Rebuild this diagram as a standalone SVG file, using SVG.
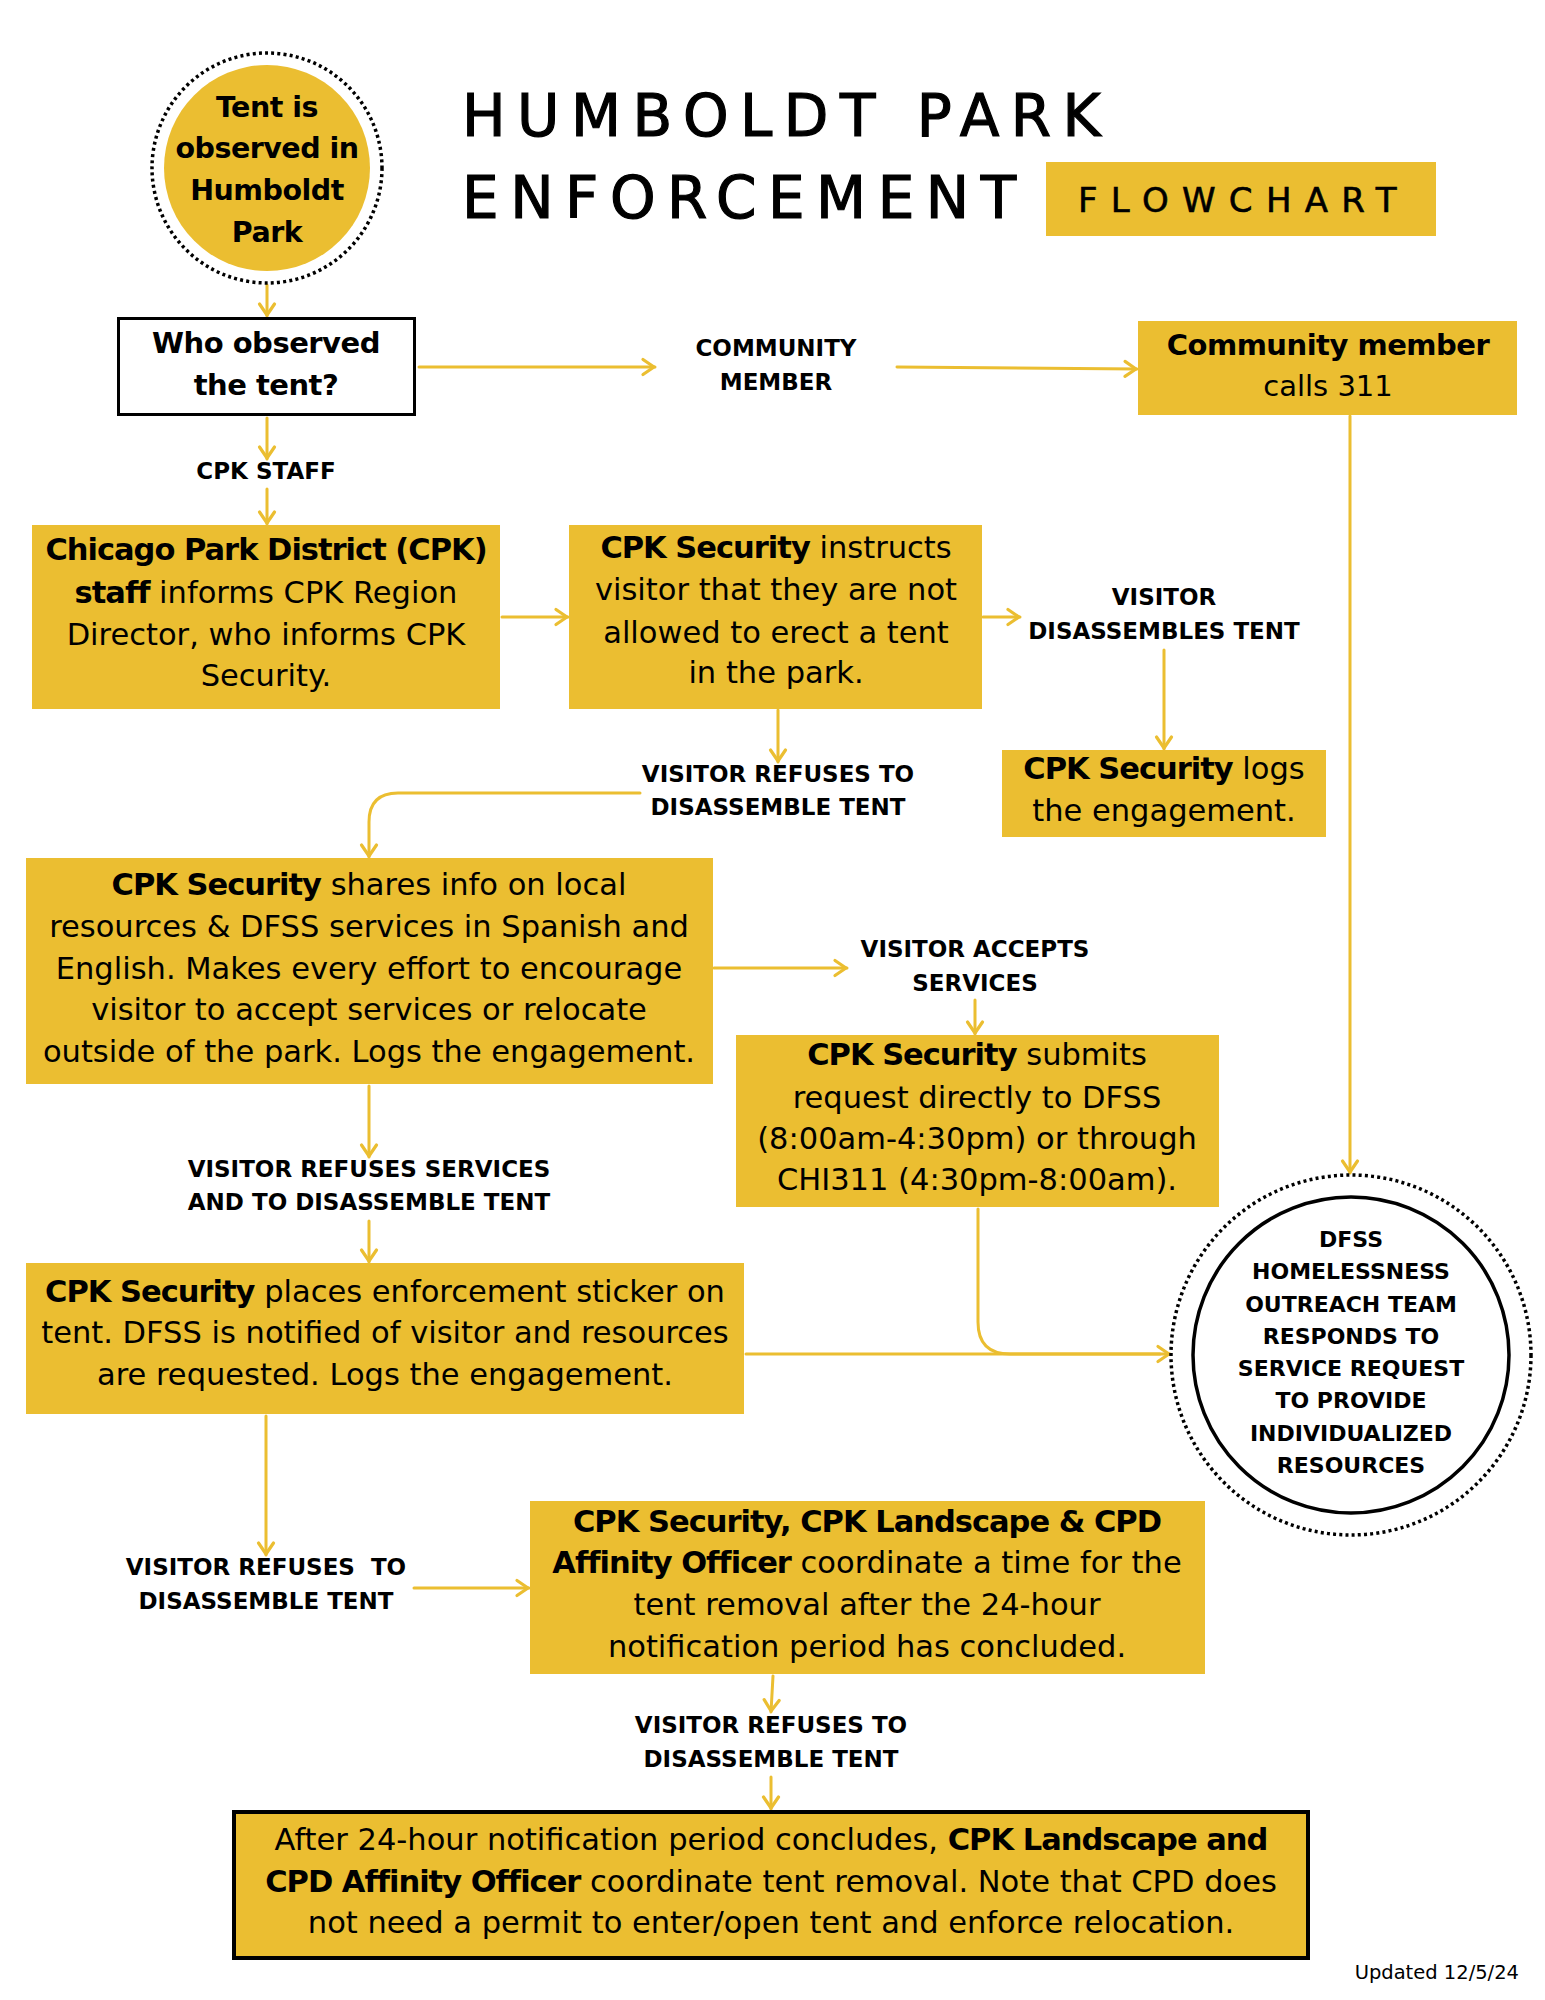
<svg xmlns="http://www.w3.org/2000/svg" width="1545" height="2000" viewBox="0 0 1545 2000">
<defs>
<style>
.box{fill:#EBBE31}
.t{font-family:'DejaVu Sans',sans-serif;font-size:30.5px;text-anchor:middle;fill:#000}
.b{font-weight:bold;letter-spacing:-1px}
.lbl{font-family:'DejaVu Sans',sans-serif;font-size:23px;font-weight:bold;text-anchor:middle;fill:#000}
.dfss{font-family:'DejaVu Sans',sans-serif;font-size:22px;font-weight:bold;text-anchor:middle;fill:#000}
.conn{fill:none;stroke:#EBBE31;stroke-width:3;stroke-linecap:round;stroke-linejoin:round}
.arr{marker-end:url(#ah)}
</style>
<marker id="ah" markerUnits="userSpaceOnUse" markerWidth="30" markerHeight="30" viewBox="-15 -15 30 30" refX="1" refY="0" orient="auto">
<path d="M-11,-7.5 L0,0 L-11,7.5" fill="none" stroke="#EBBE31" stroke-width="3.2" stroke-linecap="round" stroke-linejoin="round"/>
</marker>
</defs>
<rect width="1545" height="2000" fill="#fff"/>

<g id="title">
<text x="462" y="136" font-family="'DejaVu Sans',sans-serif" font-size="58" letter-spacing="11.5" fill="#000" stroke="#000" stroke-width="1.2">HUMBOLDT PARK</text>
<text x="462" y="218" font-family="'DejaVu Sans',sans-serif" font-size="58" letter-spacing="11.5" fill="#000" stroke="#000" stroke-width="1.2">ENFORCEMENT</text>
<rect class="box" x="1046" y="162" width="390" height="74"/>
<text x="1078" y="212" font-family="'DejaVu Sans',sans-serif" font-size="34" letter-spacing="13.3" fill="#000" stroke="#000" stroke-width="0.6">FLOWCHART</text>
</g>

<g id="connectors">
<line class="conn arr" x1="267" y1="285" x2="267" y2="316"/>
<line class="conn arr" x1="419" y1="367" x2="655" y2="367"/>
<line class="conn arr" x1="897" y1="367" x2="1137" y2="369"/>
<line class="conn arr" x1="1350" y1="416" x2="1350" y2="1173"/>
<line class="conn arr" x1="267" y1="418" x2="267" y2="459"/>
<line class="conn arr" x1="267" y1="489" x2="267" y2="524"/>
<line class="conn arr" x1="502" y1="617" x2="568" y2="617"/>
<line class="conn arr" x1="983" y1="617" x2="1020" y2="617"/>
<line class="conn arr" x1="1164" y1="650" x2="1164" y2="749"/>
<line class="conn arr" x1="778" y1="710" x2="778" y2="762"/>
<path class="conn arr" d="M640,793 H398 Q369,793 369,822 V857"/>
<line class="conn arr" x1="714" y1="968" x2="847" y2="968"/>
<line class="conn arr" x1="975" y1="1000" x2="975" y2="1034"/>
<line class="conn arr" x1="369" y1="1086" x2="369" y2="1157"/>
<line class="conn arr" x1="369" y1="1221" x2="369" y2="1262"/>
<line class="conn arr" x1="746" y1="1354" x2="1170" y2="1354"/>
<path class="conn" d="M978,1209 V1322 Q978,1354 1010,1354 H1160"/>
<line class="conn arr" x1="266" y1="1416" x2="266" y2="1555"/>
<line class="conn arr" x1="414" y1="1588" x2="529" y2="1588"/>
<line class="conn arr" x1="773" y1="1676" x2="771" y2="1712"/>
<line class="conn arr" x1="771" y1="1777" x2="771" y2="1809"/>
</g>

<g id="labels">
<text class="lbl" x="776" y="356">COMMUNITY</text>
<text class="lbl" x="776" y="390">MEMBER</text>
<text class="lbl" x="266" y="479">CPK STAFF</text>
<text class="lbl" x="1164" y="605">VISITOR</text>
<text class="lbl" x="1164" y="639">DISASSEMBLES TENT</text>
<text class="lbl" x="778" y="782">VISITOR REFUSES TO</text>
<text class="lbl" x="778" y="815">DISASSEMBLE TENT</text>
<text class="lbl" x="975" y="957">VISITOR ACCEPTS</text>
<text class="lbl" x="975" y="991">SERVICES</text>
<text class="lbl" x="369" y="1177">VISITOR REFUSES SERVICES</text>
<text class="lbl" x="369" y="1210">AND TO DISASSEMBLE TENT</text>
<text class="lbl" x="266" y="1575" xml:space="preserve">VISITOR REFUSES  TO</text>
<text class="lbl" x="266" y="1609">DISASSEMBLE TENT</text>
<text class="lbl" x="771" y="1733">VISITOR REFUSES TO</text>
<text class="lbl" x="771" y="1767">DISASSEMBLE TENT</text>
</g>

<g id="start">
<circle cx="267" cy="168" r="115" fill="none" stroke="#000" stroke-width="3.5" stroke-dasharray="3 3.2"/>
<circle class="box" cx="267" cy="168" r="103"/>
<text class="t b" style="font-size:28.5px;letter-spacing:-0.5px" x="267" y="117">Tent is</text>
<text class="t b" style="font-size:28.5px;letter-spacing:-0.5px" x="267" y="158">observed in</text>
<text class="t b" style="font-size:28.5px;letter-spacing:-0.5px" x="267" y="200">Humboldt</text>
<text class="t b" style="font-size:28.5px;letter-spacing:-0.5px" x="267" y="242">Park</text>
</g>

<g id="who">
<rect x="118.5" y="318.5" width="296" height="96" fill="#fff" stroke="#000" stroke-width="3"/>
<text class="t b" style="font-size:29px;letter-spacing:-0.5px" x="266" y="353">Who observed</text>
<text class="t b" style="font-size:29px;letter-spacing:-0.5px" x="266" y="395">the tent?</text>
</g>

<g id="community">
<rect class="box" x="1138" y="321" width="379" height="94"/>
<text class="t b" style="font-size:29px;letter-spacing:-0.5px" x="1328" y="355">Community member</text>
<text class="t" style="font-size:29px" x="1328" y="396">calls 311</text>
</g>

<g id="cpk-staff">
<rect class="box" x="32" y="525" width="468" height="184"/>
<text class="t b" x="266" y="560">Chicago Park District (CPK)</text>
<text class="t" x="266" y="603"><tspan class="b">staff</tspan> informs CPK Region</text>
<text class="t" x="266" y="645">Director, who informs CPK</text>
<text class="t" x="266" y="686">Security.</text>
</g>

<g id="instructs">
<rect class="box" x="569" y="525" width="413" height="184"/>
<text class="t" x="776" y="558"><tspan class="b">CPK Security</tspan> instructs</text>
<text class="t" x="776" y="600">visitor that they are not</text>
<text class="t" x="776" y="643">allowed to erect a tent</text>
<text class="t" x="776" y="683">in the park.</text>
</g>

<g id="logs">
<rect class="box" x="1002" y="750" width="324" height="87"/>
<text class="t" x="1164" y="779"><tspan class="b">CPK Security</tspan> logs</text>
<text class="t" x="1164" y="821">the engagement.</text>
</g>

<g id="shares">
<rect class="box" x="26" y="858" width="687" height="226"/>
<text class="t" x="369" y="895"><tspan class="b">CPK Security</tspan> shares info on local</text>
<text class="t" x="369" y="937">resources &amp; DFSS services in Spanish and</text>
<text class="t" x="369" y="979">English. Makes every effort to encourage</text>
<text class="t" x="369" y="1020">visitor to accept services or relocate</text>
<text class="t" x="369" y="1062">outside of the park. Logs the engagement.</text>
</g>

<g id="submits">
<rect class="box" x="736" y="1035" width="483" height="172"/>
<text class="t" x="977" y="1065"><tspan class="b">CPK Security</tspan> submits</text>
<text class="t" x="977" y="1108">request directly to DFSS</text>
<text class="t" x="977" y="1149">(8:00am-4:30pm) or through</text>
<text class="t" x="977" y="1190">CHI311 (4:30pm-8:00am).</text>
</g>

<g id="places">
<rect class="box" x="26" y="1263" width="718" height="151"/>
<text class="t" x="385" y="1302"><tspan class="b">CPK Security</tspan> places enforcement sticker on</text>
<text class="t" x="385" y="1343">tent. DFSS is notified of visitor and resources</text>
<text class="t" x="385" y="1385">are requested. Logs the engagement.</text>
</g>

<g id="dfss">
<circle cx="1351" cy="1355" r="180" fill="#fff" stroke="#000" stroke-width="3.5" stroke-dasharray="3 3.2"/>
<circle cx="1351" cy="1355" r="158" fill="#fff" stroke="#000" stroke-width="3.5"/>
<text class="dfss" x="1351" y="1247">DFSS</text>
<text class="dfss" x="1351" y="1279">HOMELESSNESS</text>
<text class="dfss" x="1351" y="1312">OUTREACH TEAM</text>
<text class="dfss" x="1351" y="1344">RESPONDS TO</text>
<text class="dfss" x="1351" y="1376">SERVICE REQUEST</text>
<text class="dfss" x="1351" y="1408">TO PROVIDE</text>
<text class="dfss" x="1351" y="1441">INDIVIDUALIZED</text>
<text class="dfss" x="1351" y="1473">RESOURCES</text>
</g>

<g id="coordinate">
<rect class="box" x="530" y="1501" width="675" height="173"/>
<text class="t b" x="867" y="1532">CPK Security, CPK Landscape &amp; CPD</text>
<text class="t" x="867" y="1573"><tspan class="b">Affinity Officer</tspan> coordinate a time for the</text>
<text class="t" x="867" y="1615">tent removal after the 24-hour</text>
<text class="t" x="867" y="1657">notification period has concluded.</text>
</g>

<g id="final">
<rect class="box" x="234" y="1812" width="1074" height="146" stroke="#000" stroke-width="4"/>
<text class="t" x="771" y="1850">After 24-hour notification period concludes, <tspan class="b">CPK Landscape and</tspan></text>
<text class="t" x="771" y="1892"><tspan class="b">CPD Affinity Officer</tspan> coordinate tent removal. Note that CPD does</text>
<text class="t" x="771" y="1933">not need a permit to enter/open tent and enforce relocation.</text>
</g>

<text x="1519" y="1979" font-family="'DejaVu Sans',sans-serif" font-size="19.5" text-anchor="end" fill="#000">Updated 12/5/24</text>
</svg>
